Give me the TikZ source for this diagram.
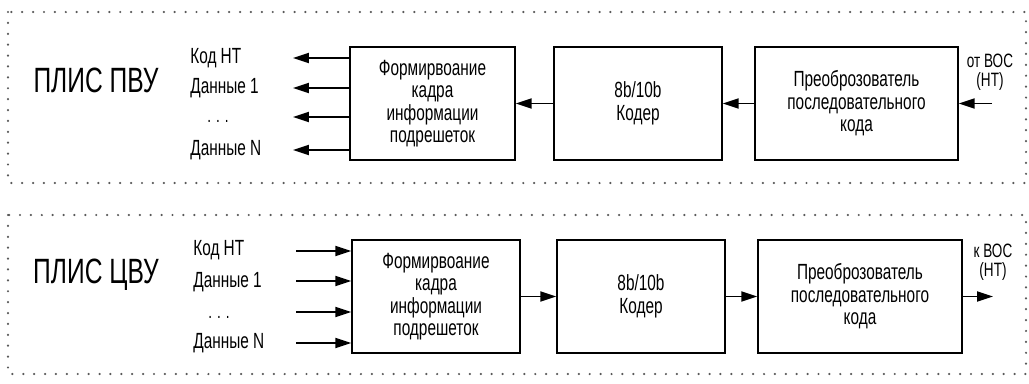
\documentclass[tikz,border=0pt]{standalone}
\usepackage{fontspec}
\setmainfont[FakeStretch=0.7]{Liberation Sans}
\usetikzlibrary{arrows.meta}
\tikzset{
  blk/.style   ={draw, line width=0.8pt, minimum height=2.26cm, inner sep=1pt,
                 align=center, font=\fontsize{12.5}{12.8}\selectfont},
  lbl/.style   ={anchor=west, inner sep=0pt, font=\fontsize{12.5}{13}\selectfont},
  dots/.style  ={inner sep=0pt, font=\fontsize{11}{12}\selectfont},
  io/.style    ={inner sep=0pt, align=center, font=\fontsize{11}{11}\selectfont},
  ttl/.style   ={inner sep=0pt, font=\fontsize{20}{22}\selectfont},
  arr/.style   ={-{Triangle[length=3.2mm,width=2mm]}, line width=1.1pt},
  frame/.style ={line width=1.4pt, black!65, line cap=round,
                 dash pattern=on 0pt off 6.2pt},
}
\begin{document}
\begin{tikzpicture}[x=0.02cm,y=-0.02cm]
  \useasboundingbox (0,0) rectangle (1029,383);
  % upper panel: receiving side
  \draw[frame] (8,12) rectangle (1026,183);
  \node[ttl] (t1) at (96,80) {ПЛИС ПВУ};
  \node[blk, minimum width=3.3cm]  (f1) at (432.5,103.5)
    {Формирвоание\\кадра\\информации\\подрешеток};
  \node[blk, minimum width=3.36cm] (k1) at (638,103.5) {8b/10b\\Кодер};
  \node[blk, minimum width=4.06cm] (p1) at (856.5,103.5)
    {Преоброзователь\\последовательного\\кода};
  \node[lbl] (a1) at (190,58)  {Код НТ};
  \node[lbl] (b1) at (190,88)  {Данные 1};
  \node[dots] (c1) at (218,121) {. . .};
  \node[lbl] (d1) at (190,150) {Данные N};
  \coordinate (oa1) at (293,58);
  \coordinate (ob1) at (293,88);
  \coordinate (oc1) at (293,117);
  \coordinate (od1) at (293,150);
  \foreach \o in {oa1,ob1,oc1,od1}
    \draw[arr] (f1.west |- \o) -- (\o);
  \draw[arr] (k1) -- (f1);
  \draw[arr] (p1) -- (k1);
  \node[io] (v1) at (990,72) {от ВОС\\(НТ)};
  \coordinate (in1) at (992,103.5);
  \draw[arr] (in1) -- (p1);
  % lower panel: transmitting side
  \draw[frame] (8,215) rectangle (1026,374);
  \node[ttl] (t2) at (96,275) {ПЛИС ЦВУ};
  \node[blk, minimum width=3.36cm] (f2) at (436,296.5)
    {Формирвоание\\кадра\\информации\\подрешеток};
  \node[blk, minimum width=3.36cm] (k2) at (641,296.5) {8b/10b\\Кодер};
  \node[blk, minimum width=4.08cm] (p2) at (860,296.5)
    {Преоброзователь\\последовательного\\кода};
  \node[lbl] (a2) at (193,250) {Код НТ};
  \node[lbl] (b2) at (193,282) {Данные 1};
  \node[dots] (c2) at (219,317) {. . .};
  \node[lbl] (d2) at (193,343) {Данные N};
  \coordinate (ia2) at (296,251);
  \coordinate (ib2) at (296,281);
  \coordinate (ic2) at (296,312);
  \coordinate (id2) at (296,343);
  \foreach \i in {ia2,ib2,ic2,id2}
    \draw[arr] (\i) -- (f2.west |- \i);
  \draw[arr] (f2) -- (k2);
  \draw[arr] (k2) -- (p2);
  \node[io] (v2) at (993,262) {к ВОС\\(НТ)};
  \coordinate (out2) at (993,296.5);
  \draw[arr] (p2) -- (out2);
\end{tikzpicture}
\end{document}
